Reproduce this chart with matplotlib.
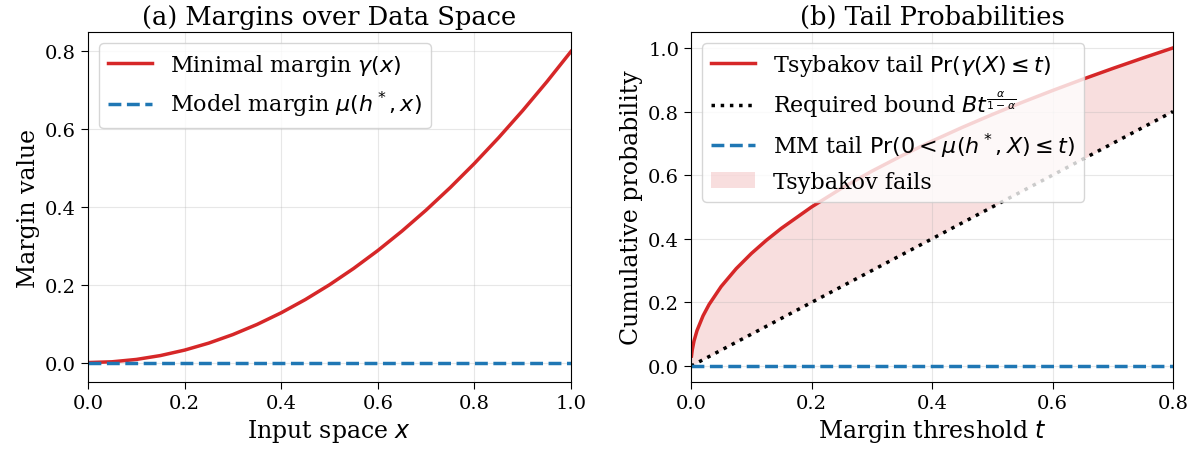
import matplotlib
matplotlib.use('Agg')
import matplotlib.pyplot as plt
from matplotlib.ticker import MultipleLocator
import numpy as np

# panel (a): margins over the input space
x_vals = [0.0, 0.05, 0.1, 0.15, 0.2, 0.25, 0.3, 0.35, 0.4, 0.45, 0.5,
          0.55, 0.6, 0.65, 0.7, 0.75, 0.8, 0.85, 0.9, 0.95, 1.0]
gamma_vals = [0.0, 0.002, 0.008, 0.018, 0.032, 0.05, 0.072, 0.098, 0.128, 0.162, 0.2,
              0.242, 0.288, 0.338, 0.392, 0.45, 0.512, 0.578, 0.648, 0.722, 0.8]
mu_vals = [0.0] * len(x_vals)

# panel (b): tail probabilities vs threshold
t_vals = [0.0008, 0.002, 0.005, 0.01, 0.02, 0.03, 0.05, 0.075, 0.1, 0.125, 0.15,
          0.2, 0.25, 0.3, 0.35, 0.4, 0.45, 0.5, 0.55, 0.6, 0.65, 0.7, 0.75, 0.8]
tsy_tail = [0.0316, 0.05, 0.0791, 0.1118, 0.1581, 0.1936, 0.25, 0.3062, 0.3536, 0.3953, 0.433,
            0.5, 0.559, 0.6124, 0.6614, 0.7071, 0.75, 0.7906, 0.8292, 0.866, 0.9014, 0.9354, 0.9682, 1.0]
bound_vals = [0.0008, 0.002, 0.005, 0.01, 0.02, 0.03, 0.05, 0.075, 0.1, 0.125, 0.15,
              0.2, 0.25, 0.3, 0.35, 0.4, 0.45, 0.5, 0.55, 0.6, 0.65, 0.7, 0.75, 0.8]
mm_tail = [0.0] * len(t_vals)

RED = '#d62728'
BLUE = '#1f77b4'

plt.rcParams['font.family'] = 'DejaVu Serif'
plt.rcParams['mathtext.fontset'] = 'dejavusans'

W, H = 1199, 456
fig = plt.figure(figsize=(W / 100, H / 100), dpi=100)
ax1 = fig.add_axes([88 / W, 1 - 383 / H, (571 - 88) / W, (383 - 33) / H])
ax2 = fig.add_axes([691 / W, 1 - 383 / H, (1173 - 691) / W, (383 - 33) / H])

ax1.plot(x_vals, gamma_vals, color=RED, lw=2.5, label=r'Minimal margin $\gamma(x)$')
ax1.plot(x_vals, mu_vals, color=BLUE, lw=2.5, ls='--', label=r'Model margin $\mu(h^*, x)$')
ax1.set_xlim(0, 1)
ax1.set_ylim(-0.05, 0.85)
ax1.set_xlabel(r'Input space $x$', fontsize=17)
ax1.set_ylabel('Margin value', fontsize=17)
ax1.set_title('(a) Margins over Data Space', fontsize=18.5)
ax1.grid(alpha=0.3)
ax1.legend(loc='upper left', fontsize=16)

t = np.array(t_vals)
tsy = np.array(tsy_tail)
bnd = np.array(bound_vals)
ax2.plot(t_vals, tsy_tail, color=RED, lw=2.5, label=r'Tsybakov tail $\Pr(\gamma(X) \leq t)$')
ax2.plot([0.0] + bound_vals, [0.0] + bound_vals, color='black', lw=2.5, ls=':',
         label=r'Required bound $Bt^{\frac{\alpha}{1-\alpha}}$')
ax2.plot(t_vals, mm_tail, color=BLUE, lw=2.5, ls='--',
         label=r'MM tail $\Pr(0 < \mu(h^*, X) \leq t)$')
ax2.fill_between(t, bnd, tsy, where=tsy > bnd, color=RED, alpha=0.15, lw=0,
                 label='Tsybakov fails')
ax2.set_xlim(0, 0.8)
ax2.set_ylim(-0.05, 1.05)
ax2.set_xlabel(r'Margin threshold $t$', fontsize=17)
ax2.set_ylabel('Cumulative probability', fontsize=17)
ax2.set_title('(b) Tail Probabilities', fontsize=18.5)
ax2.grid(alpha=0.3)
ax2.legend(loc='upper left', fontsize=16)

for ax in (ax1, ax2):
    ax.tick_params(labelsize=14, length=5)
    ax.xaxis.set_major_locator(MultipleLocator(0.2))
    ax.yaxis.set_major_locator(MultipleLocator(0.2))

fig.savefig('out.png', dpi=100)
